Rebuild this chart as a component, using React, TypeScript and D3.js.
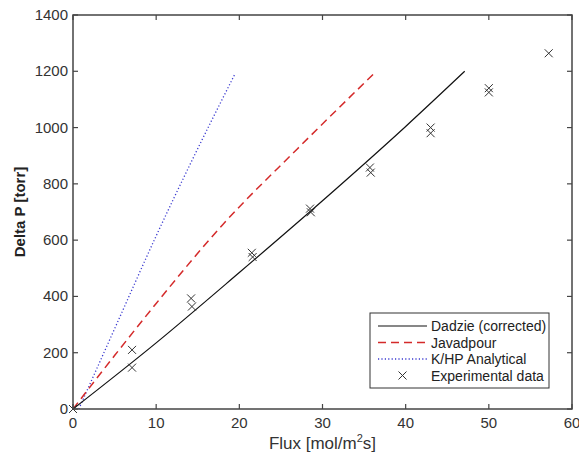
import React from "react";
import * as d3 from "d3";

const xTicks = [0, 10, 20, 30, 40, 50, 60];
const yTicks = [0, 200, 400, 600, 800, 1000, 1200, 1400];

const dadzieX = [0, 10, 20, 30, 40, 47.1];
const dadzieY = [0, 235, 485, 740, 1004, 1200];

const javadX = [0, 5, 10, 18, 27, 36.3];
const javadY = [0, 190, 375, 655, 925, 1195];

const khpX = [0.7, 5, 10, 14.5, 19.5];
const khpY = [0, 285, 615, 895, 1192];

const expX = [0, 7.1, 7.1, 14.2, 14.3, 21.5, 21.6, 28.5, 28.6, 35.7, 35.8, 43, 43, 50, 50, 57.2];
const expY = [0, 210, 147, 393, 364, 555, 540, 712, 699, 858, 840, 1000, 980, 1140, 1125, 1264];

const legendLabels = ["Dadzie (corrected)", "Javadpour", "K/HP Analytical", "Experimental data"];

const W = 579;
const H = 461;
const L = 73, R = 572, T = 15, B = 409;
const FONT = "'Liberation Sans', Arial, sans-serif";

export default function App() {
  const x = d3.scaleLinear().domain([0, 60]).range([L, R]);
  const y = d3.scaleLinear().domain([0, 1400]).range([B, T]);
  const line = d3
    .line<[number, number]>()
    .x((d) => x(d[0]))
    .y((d) => y(d[1]))
    .curve(d3.curveMonotoneX);
  const zip = (a: number[], b: number[]) => a.map((v, i) => [v, b[i]] as [number, number]);

  const axisColor = "#444";
  const tickLen = 5;
  const ms = 4;

  const cross = (cx: number, cy: number, key: string | number) => (
    <path
      key={key}
      d={`M${cx - ms},${cy - ms}L${cx + ms},${cy + ms}M${cx - ms},${cy + ms}L${cx + ms},${cy - ms}`}
      stroke="#333"
      strokeWidth={1}
      fill="none"
    />
  );

  const lgX = 370, lgY = 313, lgW = 179, lgH = 75;
  const rowY = [326, 342.5, 359, 375.5];
  const sx1 = 378, sx2 = 427, tx = 431;

  return (
    <div style={{ position: "absolute", left: 0, top: 0 }}>
      <svg width={W} height={H} style={{ display: "block", background: "#fff" }} fontFamily={FONT}>
        <rect x={0} y={0} width={W} height={H} fill="#fff" />
        {/* lines */}
        <path d={line(zip(khpX, khpY)) || ""} fill="none" stroke="#3a3ad0" strokeWidth={1.3} strokeDasharray="1.2,2.2" />
        <path d={line(zip(javadX, javadY)) || ""} fill="none" stroke="#d42a2a" strokeWidth={1.5} strokeDasharray="8,5" />
        <path d={line(zip(dadzieX, dadzieY)) || ""} fill="none" stroke="#111" strokeWidth={1.2} />
        {expX.map((v, i) => cross(x(v), y(expY[i]), i))}
        {/* frame */}
        <rect x={L} y={T} width={R - L} height={B - T} fill="none" stroke={axisColor} strokeWidth={1.5} />
        {xTicks.map((t) => (
          <g key={"xt" + t}>
            <line x1={x(t)} x2={x(t)} y1={B} y2={B - tickLen} stroke={axisColor} strokeWidth={1.2} />
            <line x1={x(t)} x2={x(t)} y1={T} y2={T + tickLen} stroke={axisColor} strokeWidth={1.2} />
            <text x={x(t)} y={428} textAnchor="middle" fontSize={15} fill="#333">
              {t}
            </text>
          </g>
        ))}
        {yTicks.map((t) => (
          <g key={"yt" + t}>
            <line x1={L} x2={L + tickLen} y1={y(t)} y2={y(t)} stroke={axisColor} strokeWidth={1.2} />
            <line x1={R} x2={R - tickLen} y1={y(t)} y2={y(t)} stroke={axisColor} strokeWidth={1.2} />
            <text x={68} y={y(t) + 5} textAnchor="end" fontSize={15} fill="#333">
              {t}
            </text>
          </g>
        ))}
        {/* axis labels */}
        <text x={(L + R) / 2} y={449} textAnchor="middle" fontSize={17} fill="#333">
          Flux [mol/m<tspan dy={-7} fontSize={11}>2</tspan>
          <tspan dy={7}>s]</tspan>
        </text>
        <text
          transform={`translate(25,${(T + B) / 2}) rotate(-90)`}
          textAnchor="middle"
          fontSize={15}
          fontWeight="bold"
          fill="#222"
        >
          Delta P [torr]
        </text>
        {/* legend */}
        <rect x={lgX} y={lgY} width={lgW} height={lgH} fill="#fff" stroke="#333" strokeWidth={1} />
        <line x1={sx1} x2={sx2} y1={rowY[0]} y2={rowY[0]} stroke="#111" strokeWidth={1.2} />
        <line x1={sx1} x2={sx2} y1={rowY[1]} y2={rowY[1]} stroke="#d42a2a" strokeWidth={1.5} strokeDasharray="8,5" />
        <line x1={sx1} x2={sx2} y1={rowY[2]} y2={rowY[2]} stroke="#3a3ad0" strokeWidth={1.3} strokeDasharray="1.2,2.2" />
        {cross((sx1 + sx2) / 2, rowY[3], "lg")}
        {legendLabels.map((lab, i) => (
          <text key={lab} x={tx} y={rowY[i] + 5} fontSize={14} fill="#222">
            {lab}
          </text>
        ))}
      </svg>
    </div>
  );
}
